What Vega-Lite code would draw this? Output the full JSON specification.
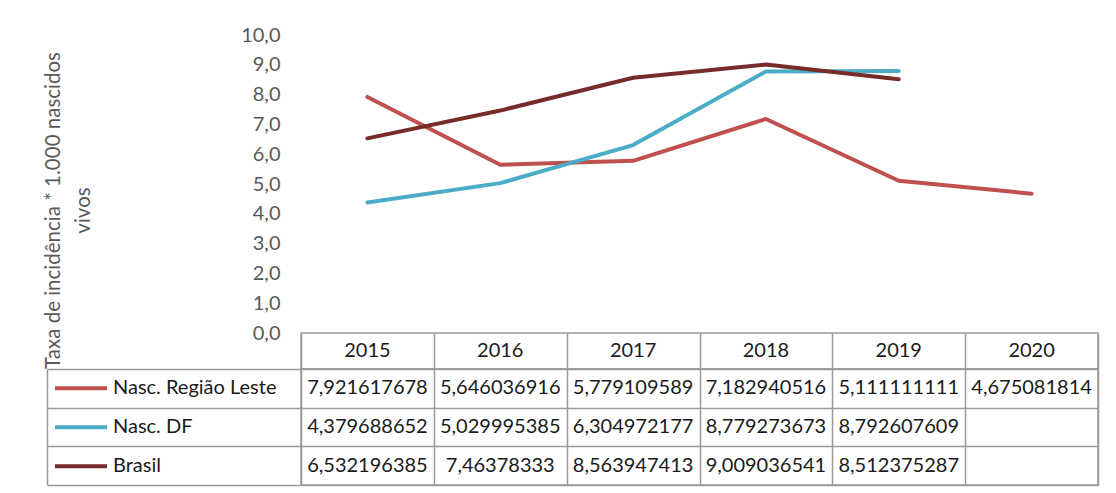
{
  "$schema": "https://vega.github.io/schema/vega-lite/v6.json",
  "padding": {"left": 43, "top": 25, "right": 5, "bottom": 5},
  "background": "#ffffff",
  "config": {
    "locale": {"number": {"decimal": ",", "thousands": ".", "grouping": [3], "currency": ["R$", ""]}},
    "font": "Lato",
    "view": {"stroke": null}
  },
  "datasets": {
    "rates": [
      {"series": "Nasc. Região Leste", "year": "2015", "value": 7.921617678},
      {"series": "Nasc. Região Leste", "year": "2016", "value": 5.646036916},
      {"series": "Nasc. Região Leste", "year": "2017", "value": 5.779109589},
      {"series": "Nasc. Região Leste", "year": "2018", "value": 7.182940516},
      {"series": "Nasc. Região Leste", "year": "2019", "value": 5.111111111},
      {"series": "Nasc. Região Leste", "year": "2020", "value": 4.675081814},
      {"series": "Nasc. DF", "year": "2015", "value": 4.379688652},
      {"series": "Nasc. DF", "year": "2016", "value": 5.029995385},
      {"series": "Nasc. DF", "year": "2017", "value": 6.304972177},
      {"series": "Nasc. DF", "year": "2018", "value": 8.779273673},
      {"series": "Nasc. DF", "year": "2019", "value": 8.792607609},
      {"series": "Brasil", "year": "2015", "value": 6.532196385},
      {"series": "Brasil", "year": "2016", "value": 7.46378333},
      {"series": "Brasil", "year": "2017", "value": 8.563947413},
      {"series": "Brasil", "year": "2018", "value": 9.009036541},
      {"series": "Brasil", "year": "2019", "value": 8.512375287}
    ],
    "years": [
      {"year": "2015"}, {"year": "2016"}, {"year": "2017"},
      {"year": "2018"}, {"year": "2019"}, {"year": "2020"}
    ]
  },
  "spacing": 0,
  "bounds": "flush",
  "resolve": {
    "scale": {"x": "independent", "y": "independent", "color": "independent"},
    "legend": {"color": "independent"}
  },
  "vconcat": [
    {
      "width": 797,
      "height": 298,
      "data": {"name": "rates"},
      "mark": {"type": "line", "strokeWidth": 4, "strokeCap": "round", "strokeJoin": "round"},
      "encoding": {
        "x": {
          "field": "year", "type": "ordinal",
          "scale": {"type": "point", "padding": 0.5, "domain": ["2015", "2016", "2017", "2018", "2019", "2020"]},
          "axis": null
        },
        "y": {
          "field": "value", "type": "quantitative",
          "scale": {"domain": [0, 10], "nice": false},
          "axis": {
            "values": [0, 1, 2, 3, 4, 5, 6, 7, 8, 9, 10],
            "format": ".1f",
            "domain": false, "ticks": false, "grid": false,
            "labelFontSize": 20, "labelColor": "#595959", "labelPadding": 21,
            "title": ["Taxa de incidência * 1.000 nascidos", "vivos"],
            "titleFontSize": 20.5, "titleFontWeight": "normal", "titleColor": "#595959",
            "titleAngle": 270, "titleBaseline": "bottom", "titleAlign": "center",
            "titleLineHeight": 30, "titleX": -238, "titleY": 175
          }
        },
        "color": {
          "field": "series", "type": "nominal",
          "scale": {
            "domain": ["Nasc. Região Leste", "Nasc. DF", "Brasil"],
            "range": ["#C0504D", "#4BACC6", "#772C2A"]
          },
          "legend": {
            "orient": "none", "legendX": -248, "legendY": 334,
            "direction": "vertical", "title": null,
            "symbolType": "stroke", "symbolStrokeWidth": 4, "symbolSize": 2704,
            "clipHeight": 38.67, "rowPadding": 0, "padding": 0,
            "labelFontSize": 20, "labelColor": "#1a1a1a", "labelOffset": 4, "labelLimit": 400
          }
        }
      }
    },
    {
      "width": 797,
      "height": 36,
      "data": {"name": "years"},
      "view": {"stroke": "#9a9a9a", "strokeWidth": 1.5},
      "mark": {"type": "text", "fontSize": 20, "color": "#1a1a1a"},
      "encoding": {
        "x": {
          "field": "year", "type": "ordinal",
          "scale": {"type": "band", "paddingInner": 0, "paddingOuter": 0, "domain": ["2015", "2016", "2017", "2018", "2019", "2020"]},
          "axis": {"grid": true, "tickBand": "extent", "labels": false, "ticks": false, "domain": false, "title": null,
                   "gridColor": "#9a9a9a", "gridWidth": 1.5, "gridOpacity": 1}
        },
        "text": {"field": "year", "type": "nominal"}
      }
    },
    {
      "width": 797,
      "height": 116,
      "data": {"name": "rates"},
      "view": {"stroke": "#9a9a9a", "strokeWidth": 1.5},
      "mark": {"type": "text", "fontSize": 20, "color": "#1a1a1a"},
      "encoding": {
        "x": {
          "field": "year", "type": "ordinal",
          "scale": {"type": "band", "paddingInner": 0, "paddingOuter": 0, "domain": ["2015", "2016", "2017", "2018", "2019", "2020"]},
          "axis": {"grid": true, "tickBand": "extent", "labels": false, "ticks": false, "domain": false, "title": null,
                   "gridColor": "#9a9a9a", "gridWidth": 1.5, "gridOpacity": 1}
        },
        "y": {
          "field": "series", "type": "nominal",
          "scale": {"type": "band", "paddingInner": 0, "paddingOuter": 0, "domain": ["Nasc. Região Leste", "Nasc. DF", "Brasil"]},
          "axis": {"grid": true, "tickBand": "extent", "labels": false, "title": null,
                   "gridColor": "#9a9a9a", "gridWidth": 1.5, "gridOpacity": 1,
                   "ticks": true, "tickSize": -254, "tickColor": "#9a9a9a", "tickWidth": 1.5,
                   "domain": true, "domainColor": "#9a9a9a", "domainWidth": 1.5, "offset": 254}
        },
        "text": {"field": "value", "type": "quantitative", "format": ".10~r"}
      }
    }
  ]
}
